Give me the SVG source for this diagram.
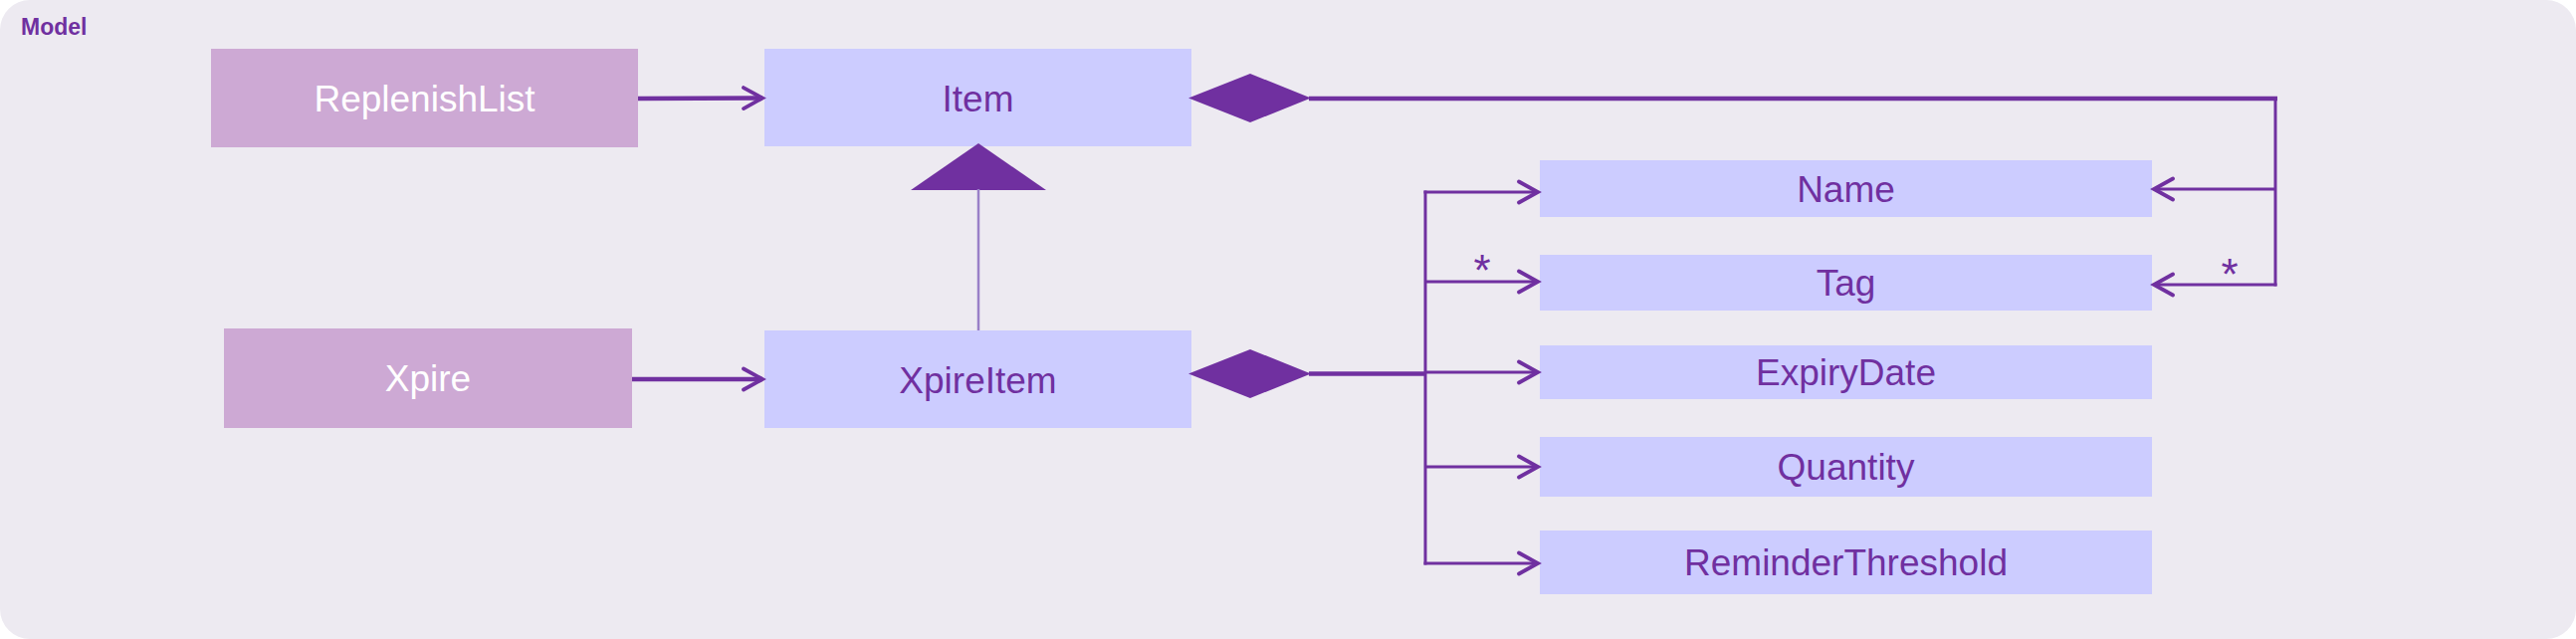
<svg xmlns="http://www.w3.org/2000/svg" width="2588" height="642" viewBox="0 0 2588 642">
  <style>
    .mauve { fill: #CDA9D4; }
    .lilac { fill: #CCCCFF; }
    .lblW { font-family: "Liberation Sans", Arial, sans-serif; font-size: 37px; fill: #FFFFFF; text-anchor: middle; }
    .lblP { font-family: "Liberation Sans", Arial, sans-serif; font-size: 37px; fill: #7030A0; text-anchor: middle; }
    .mult { font-family: "Liberation Sans", Arial, sans-serif; font-size: 44px; fill: #7030A0; text-anchor: middle; }
    .conn { fill: none; stroke: #7030A0; stroke-linejoin: miter; }
    .thick { stroke-width: 4.5; }
    .thin { stroke-width: 3; }
    .solid { fill: #7030A0; stroke: none; }
  </style>
  <defs>
    <marker id="open" markerUnits="userSpaceOnUse" markerWidth="26" markerHeight="26" viewBox="-22 -13 26 26" refX="0" refY="0" orient="auto">
      <path d="M -19 -10.5 L 0 0 L -19 10.5" fill="none" stroke="#7030A0" stroke-width="3.8" stroke-linecap="round" stroke-linejoin="miter"/>
    </marker>
  </defs>

  <rect x="0" y="0" width="2588" height="642" fill="#FFFFFF"/>
  <rect x="0" y="0" width="2588" height="642" rx="30" ry="30" fill="#EDEAF1"/>
  <text x="21" y="35" font-family="'Liberation Sans', Arial, sans-serif" font-size="23" font-weight="bold" fill="#7030A0">Model</text>

  <g id="node-replenishlist">
    <rect class="mauve" x="212" y="49" width="429" height="99"/>
    <text class="lblW" x="426.5" y="112">ReplenishList</text>
  </g>
  <g id="node-item">
    <rect class="lilac" x="768" y="49" width="429" height="98"/>
    <text class="lblP" x="982.5" y="112">Item</text>
  </g>
  <g id="node-xpire">
    <rect class="mauve" x="225" y="330" width="410" height="100"/>
    <text class="lblW" x="430" y="393">Xpire</text>
  </g>
  <g id="node-xpireitem">
    <rect class="lilac" x="768" y="332" width="429" height="98"/>
    <text class="lblP" x="982.5" y="395">XpireItem</text>
  </g>
  <g id="node-name">
    <rect class="lilac" x="1547" y="161" width="615" height="57"/>
    <text class="lblP" x="1854.5" y="203">Name</text>
  </g>
  <g id="node-tag">
    <rect class="lilac" x="1547" y="256" width="615" height="56"/>
    <text class="lblP" x="1854.5" y="297">Tag</text>
  </g>
  <g id="node-expirydate">
    <rect class="lilac" x="1547" y="347" width="615" height="54"/>
    <text class="lblP" x="1854.5" y="387">ExpiryDate</text>
  </g>
  <g id="node-quantity">
    <rect class="lilac" x="1547" y="439" width="615" height="60"/>
    <text class="lblP" x="1854.5" y="482">Quantity</text>
  </g>
  <g id="node-reminderthreshold">
    <rect class="lilac" x="1547" y="533" width="615" height="64"/>
    <text class="lblP" x="1854.5" y="578">ReminderThreshold</text>
  </g>

  <g id="connectors">
    <line class="conn thick" x1="641" y1="99" x2="766" y2="98.5" marker-end="url(#open)"/>
    <line class="conn thick" x1="635" y1="381" x2="766" y2="381" marker-end="url(#open)"/>
    <polygon class="solid" points="1194,98.5 1256,74 1317,98.5 1256,123"/>
    <line class="conn thick" x1="1315" y1="99" x2="2288" y2="99"/>
    <line class="conn thin" x1="2286" y1="97" x2="2286" y2="287.5"/>
    <line class="conn thin" x1="2286" y1="190" x2="2164" y2="190" marker-end="url(#open)"/>
    <line class="conn thin" x1="2287.5" y1="286" x2="2164" y2="286" marker-end="url(#open)"/>
    <text class="mult" x="2240" y="291">*</text>
    <polygon class="solid" points="983,144 1051,191 915,191"/>
    <line x1="983" y1="190" x2="983" y2="332" stroke="#9A80C8" stroke-width="2.5"/>
    <polygon class="solid" points="1194,375.5 1256,351 1317,375.5 1256,400"/>
    <line class="conn thick" x1="1315" y1="375.5" x2="1433" y2="375.5"/>
    <line class="conn thin" x1="1432" y1="191.5" x2="1432" y2="567.5"/>
    <line class="conn thin" x1="1430.5" y1="193" x2="1545" y2="193" marker-end="url(#open)"/>
    <line class="conn thin" x1="1432" y1="283" x2="1545" y2="283" marker-end="url(#open)"/>
    <line class="conn thin" x1="1432" y1="374" x2="1545" y2="374" marker-end="url(#open)"/>
    <line class="conn thin" x1="1432" y1="469" x2="1545" y2="469" marker-end="url(#open)"/>
    <line class="conn thin" x1="1430.5" y1="566" x2="1545" y2="566" marker-end="url(#open)"/>
    <text class="mult" x="1489" y="287">*</text>
  </g>
</svg>
